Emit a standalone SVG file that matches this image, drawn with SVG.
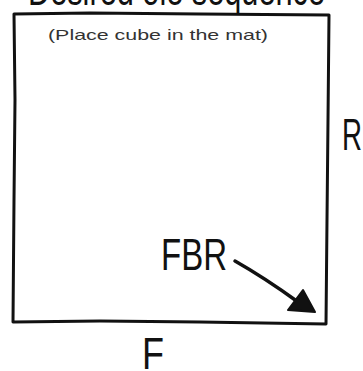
<svg xmlns="http://www.w3.org/2000/svg" width="363" height="371" viewBox="0 0 363 371">
<style>
.big{font-family:"Liberation Sans",Arial,sans-serif;font-size:44px;fill:#111}
.small{font-family:"Liberation Sans",Arial,sans-serif;font-size:15px;fill:#333}
.ink{fill:none;stroke:#111;stroke-width:3;stroke-linecap:round;stroke-linejoin:round}
</style>
<rect width="363" height="371" fill="#fff"/>
<text class="big" x="28" y="5" textLength="297" lengthAdjust="spacingAndGlyphs">Desired ole sequence</text>
<g id="mat">
<path class="ink" d="M14,14 L90,13 L200,14 L329,15 L328,120 L327,220 L326,324 L200,322 L100,321 L13,322 L14,200 L15,100 Z"/>
<text class="small" x="48" y="40" textLength="220" lengthAdjust="spacingAndGlyphs">(Place cube in the mat)</text>
</g>
<g id="label-R"><text class="big" x="342" y="150" textLength="20" lengthAdjust="spacingAndGlyphs">R</text></g>
<g id="label-F"><text class="big" x="142" y="369" textLength="22" lengthAdjust="spacingAndGlyphs">F</text></g>
<g id="label-FBR"><text class="big" x="161" y="270" textLength="66" lengthAdjust="spacingAndGlyphs">FBR</text></g>
<g id="connectors">
<path class="ink" d="M235,261 Q265,278 298,302" style="stroke-width:3.5"/>
<polygon points="315,312 288,310 303,290" fill="#111" stroke="#111" stroke-width="2" stroke-linejoin="round"/>
</g>
</svg>
